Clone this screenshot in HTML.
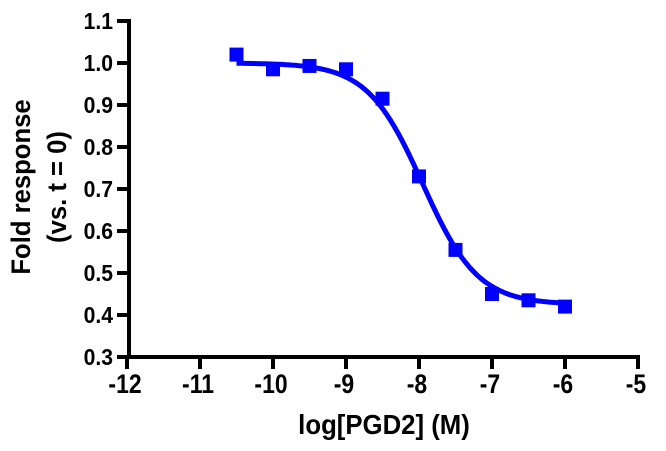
<!DOCTYPE html>
<html><head><style>body{margin:0;background:#fff}svg{display:block}text{font-family:"Liberation Sans",Arial,sans-serif;font-weight:bold;fill:#000}</style></head>
<body>
<svg id="s" width="666" height="451" xmlns="http://www.w3.org/2000/svg">
<g stroke="#000" stroke-width="4" fill="none">
<line x1="129" y1="19" x2="129" y2="359"/>
<line x1="127" y1="357" x2="640" y2="357"/>
</g>
<g id="ticks" stroke="#000" stroke-width="4"></g>
<g id="lab"></g>
<text transform="translate(384,434) scale(0.92,1)" font-size="28" text-anchor="middle">log[PGD2] (M)</text>
<text transform="translate(30,187) rotate(-90) scale(0.95,1)" font-size="27" text-anchor="middle">Fold response</text>
<text transform="translate(66,187) rotate(-90) scale(0.95,1)" font-size="27" text-anchor="middle">(vs. t = 0)</text>
<path id="curve" stroke="#0000ff" stroke-width="5" fill="none"/>
<g id="pts" fill="#0000ff"></g>
</svg>
<script>
var ns="http://www.w3.org/2000/svg";
function X(x){return 127+(x+12)*73}
function Y(v){return 357-(v-0.3)*420}
function el(t,a,p,txt){var e=document.createElementNS(ns,t);for(var k in a)e.setAttribute(k,a[k]);if(txt)e.textContent=txt;document.getElementById(p).appendChild(e);}
for(var i=3;i<=11;i++){var v=i/10,y=Y(v);el("line",{x1:117,y1:y,x2:129,y2:y},"ticks");el("text",{transform:"translate(113,"+(y+8)+") scale(0.92,1)","text-anchor":"end","font-size":"23"},"lab",v.toFixed(1));}
for(var x=-12;x<=-5;x++){var px=X(x);el("line",{x1:px,y1:357,x2:px,y2:369},"ticks");el("text",{transform:"translate("+(px-2)+",393) scale(0.85,1)","text-anchor":"middle","font-size":"27"},"lab",String(x));}
var d="";for(var x=-10.5;x<=-5.999;x+=0.02){var v=0.425+(1.0-0.425)/(1+Math.pow(10,(x+7.95)*1.15));d+=(d?"L":"M")+X(x).toFixed(1)+","+Y(v).toFixed(1);}
document.getElementById("curve").setAttribute("d",d);
var data=[[-10.5,1.02],[-10,0.985],[-9.5,0.993],[-9,0.985],[-8.5,0.915],[-8,0.73],[-7.5,0.555],[-7,0.45],[-6.5,0.435],[-6,0.42]];
data.forEach(function(p){el("rect",{x:X(p[0])-7,y:Y(p[1])-7,width:14,height:14},"pts");});
</script>
</body></html>
